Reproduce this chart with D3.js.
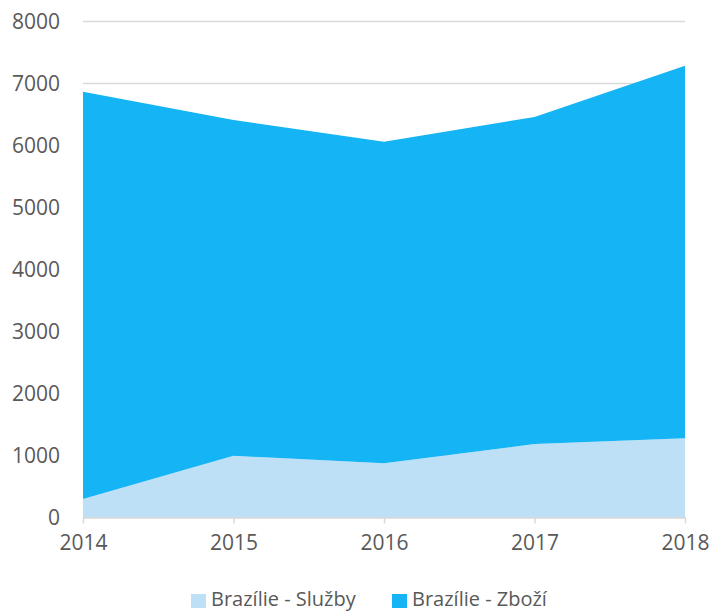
<!DOCTYPE html>
<html>
<head>
<meta charset="utf-8">
<script src="https://cdn.jsdelivr.net/npm/d3@7"></script>
<style>
  body { margin: 0; background: #fff; }
  text { font-family: "Open Sans", sans-serif; fill: #595959; }
</style>
</head>
<body>
<div id="chart"></div>
<script>
let years = [2014, 2015, 2016, 2017, 2018]
let sluzby = [300, 995, 875, 1185, 1280]
let zbozi = [6568, 5416, 5186, 5275, 6007]
let seriesNames = ['Brazílie - Služby', 'Brazílie - Zboží']
let colors = ['#BDE0F7', '#15B4F4']
let yTicks = [0, 1000, 2000, 3000, 4000, 5000, 6000, 7000, 8000]

let width = 713
let height = 611
let margin = ({top: 21.5, right: 28, bottom: 93.5, left: 83})

let rows = years.map((y, i) => ({year: y, s: sluzby[i], z: zbozi[i]}))
let stack = d3.stack().keys(['s', 'z'])(rows)

let x = d3.scaleLinear()
	.domain(d3.extent(years))
	.range([margin.left, width - margin.right])

let y = d3.scaleLinear()
	.domain([0, 8000])
	.range([height - margin.bottom, margin.top])

const svg = d3.select('#chart')
	.append('svg')
	.attr('width', width)
	.attr('height', height)

// gridlines
svg.append('g')
	.selectAll('line')
	.data(yTicks)
	.enter()
	.append('line')
	.attr('x1', x.range()[0])
	.attr('x2', x.range()[1])
	.attr('y1', d => y(d))
	.attr('y2', d => y(d))
	.attr('stroke', '#d9d9d9')
	.attr('stroke-width', 1.5)

let area = d3.area()
	.x(d => x(d.data.year))
	.y0(d => y(d[0]))
	.y1(d => y(d[1]))

svg.append('g')
	.selectAll('path')
	.data(stack)
	.enter()
	.append('path')
	.attr('fill', (d, i) => colors[i])
	.attr('d', area)

// x axis
let xAxis = g => g
	.attr('transform', `translate(0,${y(0)})`)
	.call(d3.axisBottom(x).tickValues(years).tickFormat(d3.format('d')).tickSize(6).tickPadding(12).tickSizeOuter(0))
	.call(g => g.select('.domain').attr('stroke', '#d9d9d9').attr('stroke-width', 1.5))
	.call(g => g.selectAll('.tick line').attr('stroke', '#d9d9d9').attr('stroke-width', 1.5))
	.call(g => g.selectAll('.tick text').attr('font-size', 21).attr('font-family', '"Open Sans", sans-serif').attr('fill', '#595959'))

let yAxis = g => g
	.attr('transform', `translate(${margin.left},0)`)
	.call(d3.axisLeft(y).tickValues(yTicks).tickFormat(d3.format('d')).tickSize(0).tickPadding(23))
	.call(g => g.select('.domain').remove())
	.call(g => g.selectAll('.tick text').attr('font-size', 21).attr('font-family', '"Open Sans", sans-serif').attr('fill', '#595959'))

svg.append('g').call(xAxis)
svg.append('g').call(yAxis)

// legend
let legendX = [191, 392]
let legend = svg.append('g')
	.selectAll('g')
	.data(seriesNames)
	.enter()
	.append('g')
	.attr('transform', (d, i) => `translate(${legendX[i]},594)`)

legend.append('rect')
	.attr('width', 15)
	.attr('height', 14)
	.attr('fill', (d, i) => colors[i])

legend.append('text')
	.attr('x', 20)
	.attr('y', 12)
	.attr('font-size', 20)
	.text(d => d)
</script>
</body>
</html>
